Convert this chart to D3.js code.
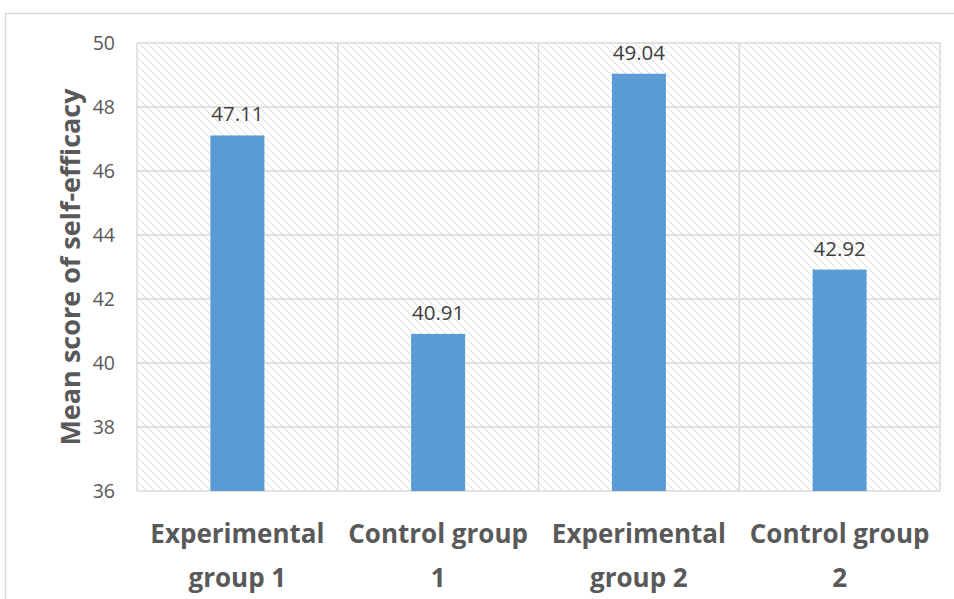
<!DOCTYPE html>
<html><head><meta charset="utf-8">
<script src="https://cdn.jsdelivr.net/npm/d3@7"></script>
<style>body{margin:0;background:#fff;}svg{display:block;font-family:"Open Sans",sans-serif;}</style>
</head><body>
<svg id="c" width="954" height="599"></svg>
<script>
const categories = [["Experimental","group 1"],["Control group","1"],["Experimental","group 2"],["Control group","2"]];
const values = [47.11, 40.91, 49.04, 42.92];
const yTicks = [36, 38, 40, 42, 44, 46, 48, 50];
const yTitle = "Mean score of self-efficacy";

(function(){
const svg = d3.select("#c");
const defs = svg.append("defs");
const pat = defs.append("pattern").attr("id","hatch").attr("patternUnits","userSpaceOnUse")
  .attr("width",8).attr("height",8);
pat.append("rect").attr("width",8).attr("height",8).attr("fill","#fff");
pat.append("path").attr("d","M-2,-2L10,10M-2,6L2,10M6,-2L10,2").attr("stroke","#e0e0e0").attr("stroke-width",1.3).attr("stroke-dasharray","2,1");

svg.append("rect").attr("x",5.5).attr("y",13.5).attr("width",960).attr("height",600)
  .attr("fill","none").attr("stroke","#d9d9d9").attr("stroke-width",1.5);

const pL=137, pR=940, pT=43, pB=491;
const x = d3.scaleBand().domain(categories.map((d,i)=>i)).range([pL,pR]).paddingInner(0).paddingOuter(0);
const y = d3.scaleLinear().domain([36,50]).range([pB,pT]);

svg.append("rect").attr("x",pL).attr("y",pT).attr("width",pR-pL).attr("height",pB-pT).attr("fill","url(#hatch)");

svg.append("g").selectAll("line").data(yTicks).join("line")
  .attr("x1",pL).attr("x2",pR).attr("y1",d=>y(d)).attr("y2",d=>y(d))
  .attr("stroke","#d9d9d9").attr("stroke-width",1.5);
const vb = categories.map((d,i)=>x(i)).concat([pR]);
svg.append("g").selectAll("line").data(vb).join("line")
  .attr("x1",d=>d).attr("x2",d=>d).attr("y1",pT).attr("y2",pB)
  .attr("stroke","#d9d9d9").attr("stroke-width",1.5);

const yAxis = d3.axisLeft(y).tickValues(yTicks).tickSize(0).tickPadding(0);
const ga = svg.append("g").attr("transform",`translate(${pL-22},0)`).call(yAxis);
ga.select(".domain").remove();
ga.selectAll("text").attr("font-size",19.5).attr("fill","#595959").attr("font-family","'Open Sans',sans-serif").attr("dy","0.35em");

const bw = 54;
svg.append("g").selectAll("rect").data(values).join("rect")
  .attr("x",(d,i)=>x(i)+x.bandwidth()/2-bw/2).attr("width",bw)
  .attr("y",d=>y(d)).attr("height",d=>pB-y(d)).attr("fill","#5b9bd5");

svg.append("g").selectAll("text").data(values).join("text")
  .attr("x",(d,i)=>x(i)+x.bandwidth()/2).attr("y",d=>y(d)-14)
  .attr("text-anchor","middle").attr("font-size",20.5).attr("fill","#404040")
  .text(d=>d.toFixed(2));

const xl = svg.append("g").selectAll("text").data(categories).join("text")
  .attr("x",(d,i)=>x(i)+x.bandwidth()/2).attr("text-anchor","middle")
  .attr("font-size",26).attr("font-weight","bold").attr("fill","#595959");
xl.each(function(d){
  const t=d3.select(this);
  t.append("tspan").attr("x",t.attr("x")).attr("y",543).text(d[0]);
  t.append("tspan").attr("x",t.attr("x")).attr("y",587).text(d[1]);
});

svg.append("text").attr("transform",`translate(80,${(pT+pB)/2}) rotate(-90)`)
  .attr("text-anchor","middle").attr("font-size",27).attr("font-weight","bold").attr("fill","#595959")
  .text(yTitle);
})();
</script>
</body></html>
